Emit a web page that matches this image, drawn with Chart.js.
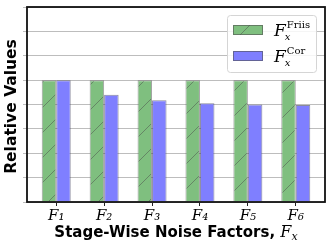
<!DOCTYPE html>
<html>
<head>
<meta charset="utf-8">
<script src="https://cdn.jsdelivr.net/npm/chart.js@4.4.0/dist/chart.umd.min.js"></script>
<style>
  html, body { margin: 0; padding: 0; background: #fff; }
  #wrap { width: 332px; height: 246px; }
</style>
</head>
<body>
<div id="wrap"><canvas id="noiseChart"></canvas></div>
<script>
// Chart data
const categories = ['F\u2081', 'F\u2082', 'F\u2083', 'F\u2084', 'F\u2085', 'F\u2086'];
const friisValues = [1.0, 1.0, 1.0, 1.0, 1.0, 1.0];
const corValues = [1.0, 0.88, 0.835, 0.81, 0.80, 0.795];
const seriesNames = ['Friis', 'Cor'];
const yTicks = [0, 0.2, 0.4, 0.6, 0.8, 1.0, 1.2, 1.4, 1.6];

const greenFill = 'rgb(127, 191, 127)';
const blueFill = 'rgb(127, 127, 255)';

// hatch pattern for the Friis bars
function makeHatch() {
  const c = document.createElement('canvas');
  c.width = 25;
  c.height = 25;
  const g = c.getContext('2d');
  g.fillStyle = greenFill;
  g.fillRect(0, 0, 25, 25);
  g.strokeStyle = 'rgba(90, 110, 90, 0.7)';
  g.lineWidth = 1;
  g.beginPath();
  g.moveTo(0, 25);
  g.lineTo(25, 0);
  g.stroke();
  return g.createPattern(c, 'repeat');
}

const ctx = document.getElementById('noiseChart').getContext('2d');
const hatch = makeHatch();

// frame, axis titles and legend drawn on top
const decorPlugin = {
  id: 'decor',
  afterDraw(chart) {
    const c = chart.ctx;
    const a = chart.chartArea;
    c.save();
    c.strokeStyle = '#111';
    c.lineWidth = 1.8;
    c.strokeRect(a.left, a.top, a.right - a.left, a.bottom - a.top);

    // y title
    c.fillStyle = '#000';
    c.font = 'bold 15.5px "DejaVu Sans"';
    c.textAlign = 'center';
    c.textBaseline = 'middle';
    c.save();
    c.translate(12, (a.top + a.bottom) / 2 + 2);
    c.rotate(-Math.PI / 2);
    c.fillText('Relative Values', 0, 0);
    c.restore();

    // x title with math part
    const part1 = 'Stage-Wise Noise Factors, ';
    c.font = 'bold 15px "DejaVu Sans"';
    const w1 = c.measureText(part1).width;
    c.font = 'italic 16px "DejaVu Serif"';
    const wF = c.measureText('F').width;
    c.font = 'italic 11px "DejaVu Serif"';
    const wx = c.measureText('x').width;
    const total = w1 + wF + wx;
    let x0 = (a.left + a.right) / 2 - total / 2;
    const by = 237;
    c.textAlign = 'left';
    c.textBaseline = 'alphabetic';
    c.font = 'bold 15px "DejaVu Sans"';
    c.fillText(part1, x0, by);
    x0 += w1;
    c.font = 'italic 16px "DejaVu Serif"';
    c.fillText('F', x0, by);
    x0 += wF;
    c.font = 'italic 11px "DejaVu Serif"';
    c.fillText('x', x0, by + 3);

    // legend
    const lx = 227, ly = 15, lw = 89, lh = 57;
    c.fillStyle = 'rgba(255,255,255,0.85)';
    c.strokeStyle = '#d5d5d5';
    c.lineWidth = 1;
    c.beginPath();
    c.roundRect(lx + 0.5, ly + 0.5, lw, lh, 3);
    c.fill();
    c.stroke();
    const fills = [hatch, blueFill];
    seriesNames.forEach((name, i) => {
      const py = 25 + i * 26;
      c.fillStyle = fills[i];
      c.fillRect(233, py, 30, 10);
      c.strokeStyle = 'rgba(80,80,80,0.6)';
      c.strokeRect(233.5, py + 0.5, 29, 9);
      c.fillStyle = '#000';
      c.font = 'italic 17px "DejaVu Serif"';
      c.fillText('F', 274, py + 11);
      const fw = c.measureText('F').width;
      c.font = '10px "DejaVu Serif"';
      c.fillText(name, 274 + fw + 1, py + 3);
      c.font = 'italic 10px "DejaVu Serif"';
      c.fillText('x', 274 + fw - 1, py + 15);
    });
    c.restore();
  }
};

new Chart(ctx, {
  type: 'bar',
  data: {
    datasets: [{
      label: 'Friis',
      data: friisValues.map((v, i) => ({ x: i, y: v })),
      backgroundColor: hatch,
      borderColor: 'rgba(80,80,80,0.55)',
      borderWidth: 1,
      categoryPercentage: 0.605,
      barPercentage: 1.0
    }, {
      label: 'Cor',
      data: corValues.map((v, i) => ({ x: i, y: v })),
      backgroundColor: blueFill,
      borderColor: 'rgba(60,60,90,0.6)',
      borderWidth: 1,
      categoryPercentage: 0.605,
      barPercentage: 1.0
    }]
  },
  options: {
    responsive: true,
    maintainAspectRatio: false,
    animation: false,
    layout: { padding: { left: 23, top: 7, right: 7, bottom: 0 } },
    plugins: {
      legend: { display: false },
      tooltip: { enabled: false }
    },
    scales: {
      x: {
        type: 'linear',
        offset: false,
        min: -0.61,
        max: 5.61,
        afterBuildTicks: (scale) => {
          scale.ticks = categories.map((c, i) => ({ value: i }));
        },
        afterFit: (scale) => { scale.height = 44; },
        ticks: {
          callback: (value) => categories[value] || '',
          color: '#000',
          font: { family: 'DejaVu Serif', style: 'italic', size: 15 },
          padding: 1,
          maxRotation: 0,
          autoSkip: false
        },
        grid: {
          offset: false,
          drawOnChartArea: false,
          drawTicks: true,
          tickLength: 4,
          color: '#222'
        },
        border: { display: false }
      },
      y: {
        min: 0,
        max: 1.6,
        afterBuildTicks: (scale) => {
          scale.ticks = yTicks.map(v => ({ value: v }));
        },
        afterFit: (scale) => { scale.width = 4; },
        ticks: { display: false },
        grid: {
          color: '#bdbdbd',
          lineWidth: 1,
          drawTicks: true,
          tickLength: 4
        },
        border: { display: false }
      }
    }
  },
  plugins: [decorPlugin]
});
</script>
</body>
</html>
